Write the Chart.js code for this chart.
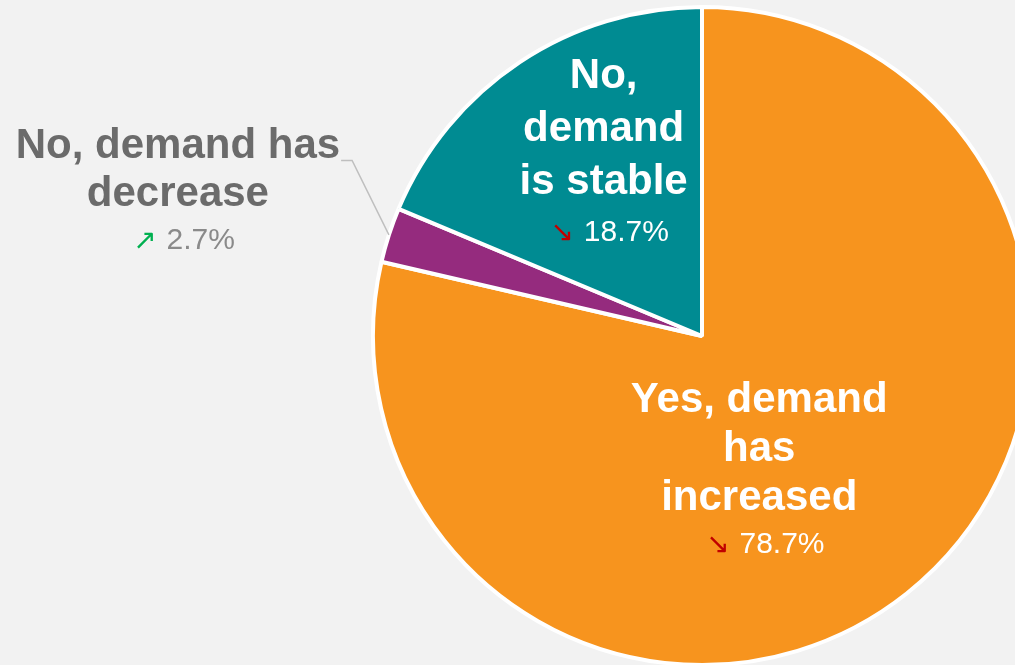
<!DOCTYPE html>
<html>
<head>
<meta charset="utf-8">
<title>Demand change</title>
<script src="https://cdn.jsdelivr.net/npm/chart.js@4"></script>
<style>
  html, body { margin: 0; padding: 0; background: #f2f2f2; overflow: hidden; }
  #wrap { width: 1404px; height: 667px; }
</style>
</head>
<body>
<div id="wrap"><canvas id="demandPie" width="1404" height="667"></canvas></div>
<script>
"use strict";

// Answers and their share of respondents (%)
const categories = ["Yes, demand has increased", "No, demand has decrease", "No, demand is stable"];
const shares = [78.7, 2.7, 18.7];
// Trend versus the previous wave
const trends = ["down", "up", "down"];

const sliceColors = ["#f7941e", "#952b7e", "#008b92"];

// How each label is wrapped and where it sits, relative to the pie radius
const labelLines = [
	["Yes, demand", "has", "increased"],
	["No, demand has", "decrease"],
	["No,", "demand", "is stable"],
];
const labelStyle = [
	{ fx: 0.174, fy: 0.195, size: 42, gap: 49, color: "#ffffff", pctColor: "#ffffff" },
	{ fx: -1.593, fy: -0.576, size: 42, gap: 48, color: "#6b6b6b", pctColor: "#8a8a8a", leader: true },
	{ fx: -0.299, fy: -0.790, size: 42, gap: 53, color: "#ffffff", pctColor: "#ffffff" },
];

// Draws the wrapped labels, the percentage with trend arrow and the leader line
const sliceLabels = {
	id: "sliceLabels",
	afterDatasetsDraw(chart) {
		const ctx = chart.ctx;
		const arcs = chart.getDatasetMeta(0).data;
		ctx.save();
		ctx.textAlign = "center";
		ctx.textBaseline = "middle";

		arcs.forEach(function (arc, i) {
			const p = arc.getProps(["x", "y", "startAngle", "endAngle", "outerRadius"], true);
			const st = labelStyle[i];
			const cx = p.x + p.outerRadius * st.fx;
			let y = p.y + p.outerRadius * st.fy;

			ctx.fillStyle = st.color;
			ctx.font = "bold " + st.size + "px 'Liberation Sans', Arial, sans-serif";
			let widest = 0;
			labelLines[i].forEach(function (line, k) {
				ctx.fillText(line, cx, y + k * st.gap);
				if (k === 0) widest = ctx.measureText(line).width;
			});

			// percentage row: arrow + value, centred as a block
			const pctY = y + labelLines[i].length * st.gap - 2;
			const arrow = trends[i] === "up" ? "\u2197" : "\u2198";
			const value = shares[i].toFixed(1) + "%";
			ctx.font = "28px 'DejaVu Sans', sans-serif";
			const aw = ctx.measureText(arrow).width;
			ctx.font = "30px 'Liberation Sans', Arial, sans-serif";
			const vw = ctx.measureText(value).width;
			const space = 10;
			const left = cx + 6 - (aw + space + vw) / 2;
			ctx.textAlign = "left";
			ctx.fillStyle = trends[i] === "up" ? "#00b050" : "#c00000";
			ctx.font = "28px 'DejaVu Sans', sans-serif";
			ctx.fillText(arrow, left, pctY + 1);
			ctx.fillStyle = st.pctColor;
			ctx.font = "30px 'Liberation Sans', Arial, sans-serif";
			ctx.fillText(value, left + aw + space, pctY);
			ctx.textAlign = "center";

			if (st.leader) {
				const mid = (p.startAngle + p.endAngle) / 2;
				const ex = p.x + Math.cos(mid) * p.outerRadius;
				const ey = p.y + Math.sin(mid) * p.outerRadius;
				const sx = cx + widest / 2 + 1;
				const sy = y + 14;
				ctx.strokeStyle = "#bfbfbf";
				ctx.lineWidth = 1.5;
				ctx.beginPath();
				ctx.moveTo(sx, sy);
				ctx.lineTo(sx + 11, sy);
				ctx.lineTo(ex, ey);
				ctx.stroke();
			}
		});
		ctx.restore();
	},
};

new Chart(document.getElementById("demandPie"), {
	type: "pie",
	data: {
		labels: categories,
		datasets: [
			{
				data: shares,
				backgroundColor: sliceColors,
				borderColor: "#ffffff",
				borderWidth: 4,
			},
		],
	},
	options: {
		responsive: false,
		animation: false,
		layout: { padding: { top: 5, bottom: 0 } },
		plugins: {
			legend: { display: false },
			tooltip: { enabled: false },
		},
	},
	plugins: [sliceLabels],
});
</script>
</body>
</html>
